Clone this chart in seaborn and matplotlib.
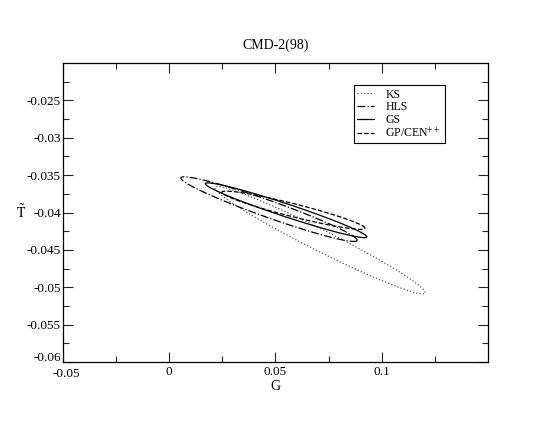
import numpy as np
import pandas as pd
import matplotlib
matplotlib.use('Agg')
import matplotlib.pyplot as plt
import matplotlib.transforms as mtransforms
import seaborn as sns

# fit results: centre, sigma and correlation of (G, T~)
models = ['KS', 'HLS', 'GS', 'GP/CEN$^{++}$']
g_centre = [0.071, 0.047, 0.055, 0.0585]
t_centre = [-0.0437, -0.03955, -0.0397, -0.0397]
g_sigma = [0.0495, 0.0415, 0.038, 0.0337]
t_sigma = [0.00718, 0.00432, 0.00366, 0.00256]
rho = [-0.975, -0.961, -0.969, -0.937]

styles = {'KS': ':', 'HLS': '-.', 'GS': '-', 'GP/CEN$^{++}$': '--'}
colors = {'KS': '#555555', 'HLS': 'black', 'GS': 'black', 'GP/CEN$^{++}$': 'black'}

sns.set_style('ticks')
plt.rcParams['font.family'] = ['Liberation Serif', 'DejaVu Serif']
plt.rcParams['mathtext.fontset'] = 'stix'
plt.rcParams['xtick.direction'] = 'in'
plt.rcParams['ytick.direction'] = 'in'
plt.rcParams['text.color'] = 'black'
plt.rcParams['xtick.labelcolor'] = 'black'
plt.rcParams['ytick.labelcolor'] = 'black'
plt.rcParams['axes.labelcolor'] = 'black'

t = np.linspace(0, 2 * np.pi, 400)
frames = []
for m, gc, tc, sg, st, r in zip(models, g_centre, t_centre, g_sigma, t_sigma, rho):
    frames.append(pd.DataFrame({
        'G': gc + sg * np.cos(t),
        'T': tc + st * (r * np.cos(t) + np.sqrt(1 - r**2) * np.sin(t)),
        'model': m,
    }))
df = pd.concat(frames, ignore_index=True)

fig = plt.figure(figsize=(5.5, 4.25), dpi=100)
ax = fig.add_axes([0.1145, 0.148, 0.7725, 0.704])

for m in models:
    sub = df[df['model'] == m]
    sns.lineplot(data=sub, x='G', y='T', sort=False, estimator=None, ax=ax,
                 color=colors[m], linestyle=styles[m], linewidth=0.9, label=m)

ax.set_xlim(-0.05, 0.15)
ax.set_ylim(-0.06, -0.02)
ax.set_xticks([-0.05, 0, 0.05, 0.1])
ax.set_xticklabels(['-0.05', '0', '0.05', '0.1'])
ax.set_xticks(np.arange(-0.05, 0.15, 0.025), minor=True)
yt = [-0.06, -0.055, -0.05, -0.045, -0.04, -0.035, -0.03, -0.025]
ax.set_yticks(yt)
ax.set_yticklabels(['-0.06', '-0.055', '-0.05', '-0.045', '-0.04', '-0.035', '-0.03', '-0.025'])
ax.set_yticks(np.arange(-0.06, -0.02, 0.0025), minor=True)
ax.tick_params(which='both', top=True, right=True, labelsize=9.5, width=0.8)
ax.tick_params(axis='x', pad=3)
ax.tick_params(axis='y', pad=1.5)
ax.tick_params(which='major', length=7)
ax.tick_params(which='minor', length=4)
for s in ax.spines.values():
    s.set_linewidth(0.9)
    s.set_color('black')

# nudge the corner labels apart a little
lab = ax.get_yticklabels()[0]
lab.set_transform(lab.get_transform() + mtransforms.ScaledTranslation(0, 4 / 72, fig.dpi_scale_trans))
lab = ax.get_xticklabels()[0]
lab.set_transform(lab.get_transform() + mtransforms.ScaledTranslation(2 / 72, -1 / 72, fig.dpi_scale_trans))

ax.set_title('CMD-2(98)', fontsize=10, pad=10)
ax.set_xlabel('G', fontsize=10, labelpad=0)
ax.set_ylabel(r'$\tilde{\mathrm{T}}$', fontsize=10, rotation=0, labelpad=4, va='center')

leg = ax.legend(loc='upper right', bbox_to_anchor=(0.899, 0.926), fontsize=8.5,
                frameon=True, fancybox=False, edgecolor='black', framealpha=1,
                handlelength=1.4, borderpad=0.3, labelspacing=0.05, handletextpad=1.0,
                borderaxespad=0)
leg.get_frame().set_linewidth(0.8)

fig.savefig('out.png', dpi=100)
